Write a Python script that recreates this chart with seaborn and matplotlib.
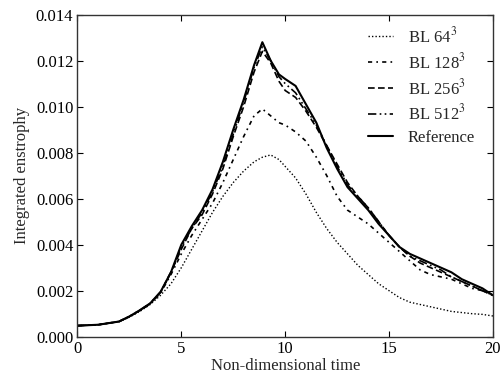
import numpy as np
import pandas as pd
import matplotlib
matplotlib.use("Agg")
import matplotlib.pyplot as plt
import seaborn as sns
from matplotlib.ticker import FormatStrFormatter

# Non-dimensional time samples
time = [0, 1, 2, 2.5, 3, 3.5, 4, 4.5, 5, 5.5, 6, 6.5, 7, 7.5, 8, 8.5, 8.9, 9.3,
        9.7, 10, 10.5, 11, 11.5, 12, 12.5, 13, 13.5, 14, 14.5, 15, 15.5, 16,
        16.5, 17, 17.5, 18, 18.5, 19, 19.5, 20]

bl_64 = [0.00048, 0.00052, 0.00065, 0.00085, 0.0011, 0.0014, 0.0018, 0.0023,
         0.0030, 0.0038, 0.0046, 0.0054, 0.0061, 0.0067, 0.0072, 0.0076,
         0.0078, 0.0079, 0.0077, 0.0074, 0.0069, 0.0062, 0.0054, 0.0047,
         0.0041, 0.0036, 0.0031, 0.0027, 0.0023, 0.0020, 0.0017, 0.0015,
         0.0014, 0.0013, 0.0012, 0.0011, 0.00105, 0.0010, 0.00097, 0.0009]

bl_128 = [0.00048, 0.00052, 0.00066, 0.00087, 0.00113, 0.00142, 0.0019,
          0.0027, 0.0036, 0.0044, 0.0051, 0.0058, 0.0067, 0.0077, 0.0087,
          0.0096, 0.0099, 0.0096, 0.0093, 0.0092, 0.0089, 0.0085, 0.0078,
          0.0070, 0.0061, 0.0055, 0.0052, 0.0049, 0.0045, 0.0041, 0.0037,
          0.0033, 0.0029, 0.0027, 0.0026, 0.0025, 0.0023, 0.0021, 0.0020,
          0.0018]

bl_256 = [0.00048, 0.00052, 0.00066, 0.00088, 0.00114, 0.00144, 0.00193,
          0.0028, 0.0038, 0.0047, 0.0053, 0.0062, 0.0073, 0.0087, 0.0100,
          0.0115, 0.0124, 0.0119, 0.0111, 0.0107, 0.0104, 0.0098, 0.0091,
          0.0083, 0.0075, 0.0067, 0.0061, 0.0056, 0.0050, 0.0044, 0.0039,
          0.0035, 0.0032, 0.0030, 0.0028, 0.0026, 0.0024, 0.0022, 0.0020,
          0.0018]

bl_512 = [0.00048, 0.00052, 0.00066, 0.00088, 0.00115, 0.00145, 0.00194,
          0.0028, 0.0039, 0.0047, 0.0054, 0.0063, 0.0074, 0.0088, 0.0102,
          0.0117, 0.0126, 0.0120, 0.0113, 0.0110, 0.0106, 0.0099, 0.0092,
          0.0083, 0.0074, 0.0066, 0.0061, 0.0056, 0.0050, 0.0044, 0.0039,
          0.0035, 0.0033, 0.0031, 0.0029, 0.0026, 0.0024, 0.0022, 0.0020,
          0.0018]

reference = [0.00048, 0.00052, 0.00066, 0.00088, 0.00115, 0.00145, 0.00195,
             0.0028, 0.0040, 0.0048, 0.0055, 0.0064, 0.0076, 0.0090, 0.0103,
             0.0118, 0.0128, 0.0120, 0.0114, 0.0112, 0.0109, 0.0101, 0.0093,
             0.0082, 0.0073, 0.0065, 0.0060, 0.0055, 0.0049, 0.0044, 0.0039,
             0.0036, 0.0034, 0.0032, 0.0030, 0.0028, 0.0025, 0.0023, 0.0021,
             0.0018]

labels = ["BL 64$^3$", "BL 128$^3$", "BL 256$^3$", "BL 512$^3$", "Reference"]
series = [bl_64, bl_128, bl_256, bl_512, reference]
styles = [(0, (1, 1.5)), (0, (2.5, 2.5, 1, 2.5)), (0, (4, 2)),
          (0, (5, 2, 1, 2, 1, 2)), "-"]
widths = [1.0, 1.2, 1.2, 1.2, 1.5]

sns.set_theme(style="ticks")
plt.rcParams["font.family"] = ["Liberation Serif", "DejaVu Serif"]
plt.rcParams["mathtext.fontset"] = "stix"
plt.rcParams["xtick.direction"] = "in"
plt.rcParams["ytick.direction"] = "in"

fig = plt.figure(figsize=(5.03, 3.74), dpi=100)
ax = fig.add_axes([0.154, 0.0997, 0.826, 0.8613])

for vals, lab, ls, lw in zip(series, labels, styles, widths):
    df = pd.DataFrame({"t": time, "enstrophy": vals})
    sns.lineplot(data=df, x="t", y="enstrophy", ax=ax, color="black",
                 linestyle=ls, linewidth=lw, label=lab)

ax.set_xlim(0, 20)
ax.set_ylim(0, 0.014)
ax.set_xticks([0, 5, 10, 15, 20])
ax.set_yticks(np.arange(0, 0.0141, 0.002))
ax.yaxis.set_major_formatter(FormatStrFormatter("%.3f"))
ax.tick_params(top=True, right=True, labelsize=12, length=4, width=0.8,
               colors="black", pad=3)
for sp in ax.spines.values():
    sp.set_color("#333333")
    sp.set_linewidth(1.0)
ax.set_xlabel("Non-dimensional time", fontsize=12, labelpad=1)
ax.set_ylabel("Integrated enstrophy", fontsize=12, labelpad=4)

ax.legend(loc="upper right", frameon=False, fontsize=12, handlelength=1.5,
          handletextpad=0.9, labelspacing=0.35, borderaxespad=0.3,
          bbox_to_anchor=(0.985, 1.0))

fig.savefig("out.png", dpi=100)
